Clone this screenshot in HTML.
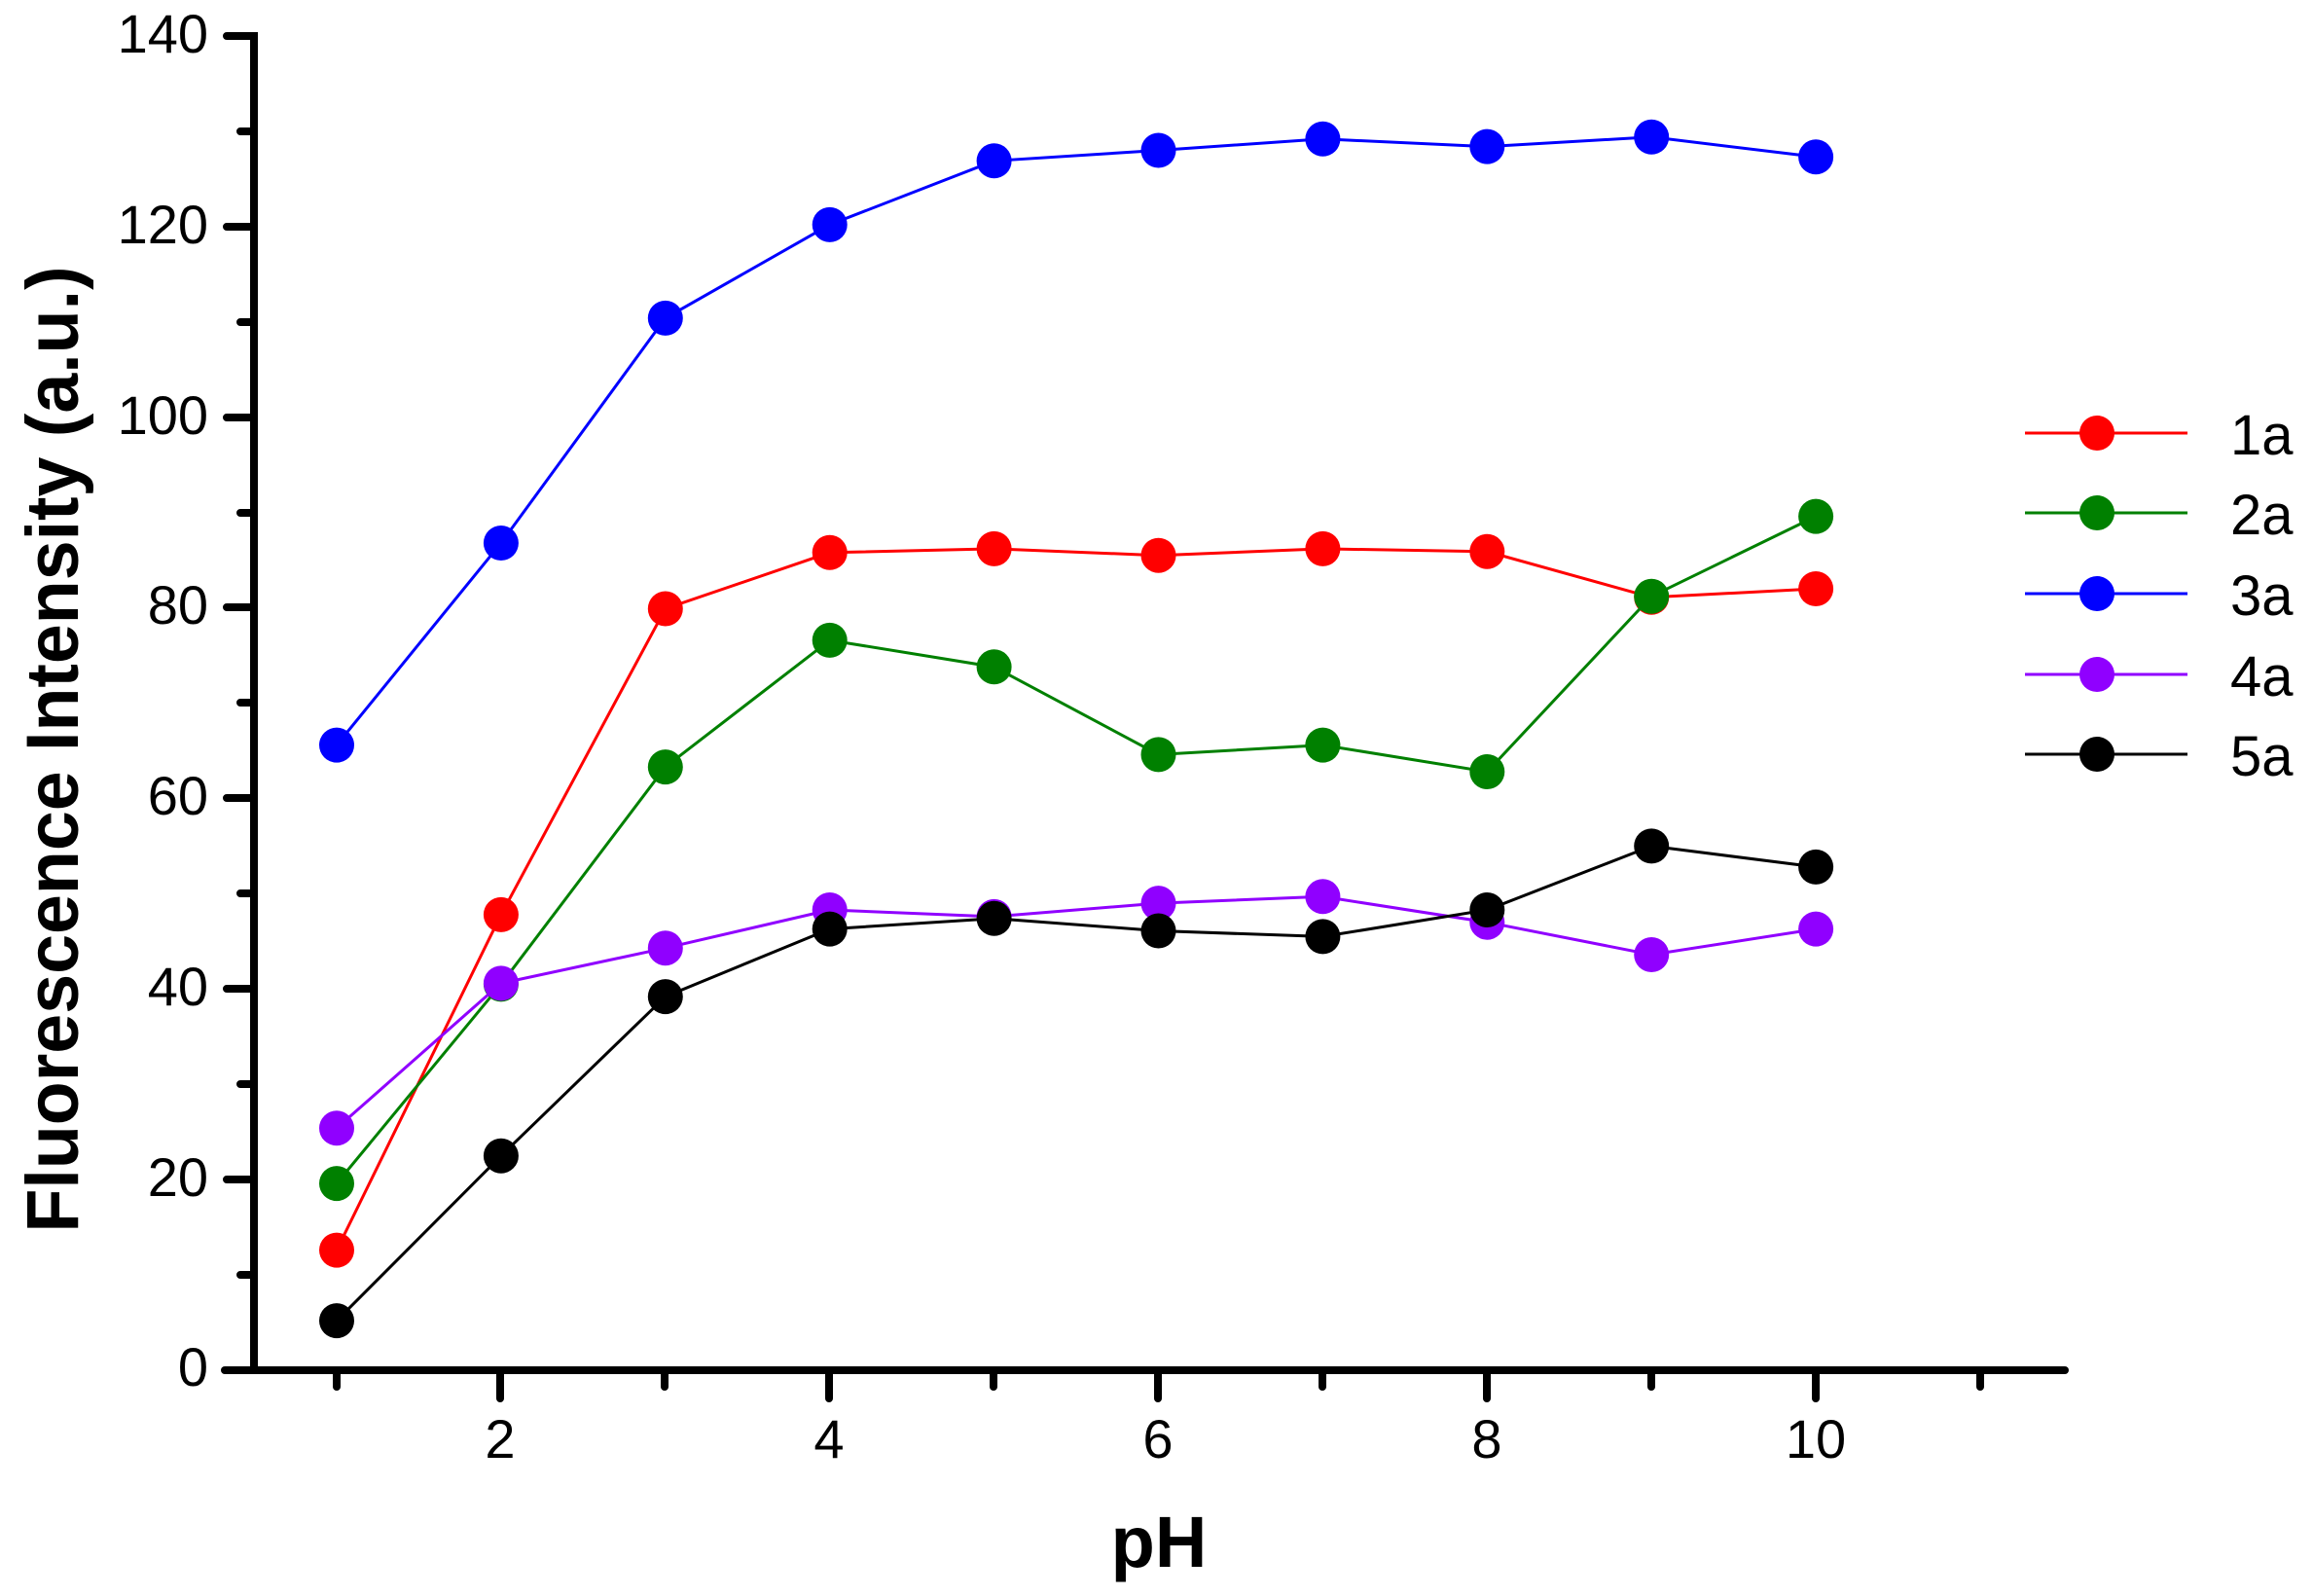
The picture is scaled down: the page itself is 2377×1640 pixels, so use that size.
<!DOCTYPE html>
<html><head><meta charset="utf-8"><style>html,body{margin:0;padding:0;background:#fff}svg{display:block}</style></head>
<body>
<svg width="2377" height="1640" viewBox="0 0 2377 1640" xmlns="http://www.w3.org/2000/svg" font-family="Liberation Sans, Arial, sans-serif">
<defs>
<marker id="mr" markerUnits="userSpaceOnUse" markerWidth="40" markerHeight="40" refX="20" refY="20" overflow="visible"><circle cx="20" cy="20" r="18" fill="#ff0000"/></marker>
<marker id="mg" markerUnits="userSpaceOnUse" markerWidth="40" markerHeight="40" refX="20" refY="20" overflow="visible"><circle cx="20" cy="20" r="18" fill="#008000"/></marker>
<marker id="mb" markerUnits="userSpaceOnUse" markerWidth="40" markerHeight="40" refX="20" refY="20" overflow="visible"><circle cx="20" cy="20" r="18" fill="#0000ff"/></marker>
<marker id="mp" markerUnits="userSpaceOnUse" markerWidth="40" markerHeight="40" refX="20" refY="20" overflow="visible"><circle cx="20" cy="20" r="18" fill="#9000ff"/></marker>
<marker id="mk" markerUnits="userSpaceOnUse" markerWidth="40" markerHeight="40" refX="20" refY="20" overflow="visible"><circle cx="20" cy="20" r="18" fill="#000000"/></marker>
</defs>
<rect width="2377" height="1640" fill="#fff"/>
<g stroke="#000" stroke-width="8" stroke-linecap="round" fill="none">
<path d="M233 37 H261 V1408"/>
<path d="M231 1408 H2122"/>
<path d="M233 233 H261 M233 429 H261 M233 624 H261 M233 820 H261 M233 1016 H261 M233 1212 H261 M233 1408 H261"/>
<path d="M247 135 H261 M247 331 H261 M247 527 H261 M247 722 H261 M247 918 H261 M247 1114 H261 M247 1310 H261"/>
<path d="M514 1408 V1437 M852 1408 V1437 M1190 1408 V1437 M1528 1408 V1437 M1866 1408 V1437"/>
<path d="M346 1408 V1425 M683 1408 V1425 M1021 1408 V1425 M1359 1408 V1425 M1697 1408 V1425 M2035 1408 V1425"/>
</g>
<g font-size="56" text-anchor="end" fill="#000">
<text x="214" y="54">140</text><text x="214" y="250">120</text><text x="214" y="446">100</text>
<text x="214" y="641">80</text><text x="214" y="837">60</text><text x="214" y="1033">40</text>
<text x="214" y="1229">20</text><text x="214" y="1424">0</text>
</g>
<g font-size="56" text-anchor="middle" fill="#000">
<text x="514" y="1498">2</text><text x="852" y="1498">4</text><text x="1190" y="1498">6</text><text x="1528" y="1498">8</text><text x="1866" y="1498">10</text>
</g>
<text x="1191" y="1610" font-size="74" font-weight="bold" text-anchor="middle">pH</text>
<text transform="translate(80,770) rotate(-90)" font-size="76" font-weight="bold" text-anchor="middle" textLength="993" lengthAdjust="spacingAndGlyphs">Fluorescence Intensity (a.u.)</text>

<g fill="none" stroke-width="3">
<polyline stroke="#ff0000" marker-start="url(#mr)" marker-mid="url(#mr)" marker-end="url(#mr)" points="346,1284.6 514.9,939.9 683.8,625.5 852.7,567.8 1021.6,563.9 1190.5,570.7 1359.4,563.9 1528.3,566.8 1697.2,613.8 1866.1,605"/>
<polyline stroke="#008000" marker-start="url(#mg)" marker-mid="url(#mg)" marker-end="url(#mg)" points="346,1216.1 514.9,1011.4 683.8,788.1 852.7,657.9 1021.6,685.3 1190.5,775.4 1359.4,765.6 1528.3,793 1697.2,612.8 1866.1,530.6"/>
<polyline stroke="#0000ff" marker-start="url(#mb)" marker-mid="url(#mb)" marker-end="url(#mb)" points="346,765.6 514.9,558 683.8,326.9 852.7,230.9 1021.6,165.3 1190.5,154.5 1359.4,142.8 1528.3,150.6 1697.2,140.8 1866.1,161.3"/>
<polyline stroke="#9000ff" marker-start="url(#mp)" marker-mid="url(#mp)" marker-end="url(#mp)" points="346,1159.3 514.9,1010.4 683.8,974.2 852.7,935 1021.6,941.9 1190.5,928.1 1359.4,921.3 1528.3,947.7 1697.2,981 1866.1,954.6"/>
<polyline stroke="#000000" marker-start="url(#mk)" marker-mid="url(#mk)" marker-end="url(#mk)" points="346,1357.1 514.9,1187.7 683.8,1024.1 852.7,954.6 1021.6,943.8 1190.5,956.5 1359.4,962.4 1528.3,935 1697.2,869.4 1866.1,890.9"/>
</g>

<g stroke-width="3">
<line x1="2081" x2="2248" y1="445" y2="445" stroke="#ff0000"/><circle cx="2155" cy="445" r="18" fill="#ff0000"/>
<line x1="2081" x2="2248" y1="527" y2="527" stroke="#008000"/><circle cx="2155" cy="527" r="18" fill="#008000"/>
<line x1="2081" x2="2248" y1="610" y2="610" stroke="#0000ff"/><circle cx="2155" cy="610" r="18" fill="#0000ff"/>
<line x1="2081" x2="2248" y1="693" y2="693" stroke="#9000ff"/><circle cx="2155" cy="693" r="18" fill="#9000ff"/>
<line x1="2081" x2="2248" y1="775" y2="775" stroke="#000000"/><circle cx="2155" cy="775" r="18" fill="#000000"/>
</g>
<g font-size="58" fill="#000">
<text x="2292" y="467">1a</text><text x="2292" y="549">2a</text><text x="2292" y="632">3a</text><text x="2292" y="715">4a</text><text x="2292" y="797">5a</text>
</g>
</svg>
</body></html>
